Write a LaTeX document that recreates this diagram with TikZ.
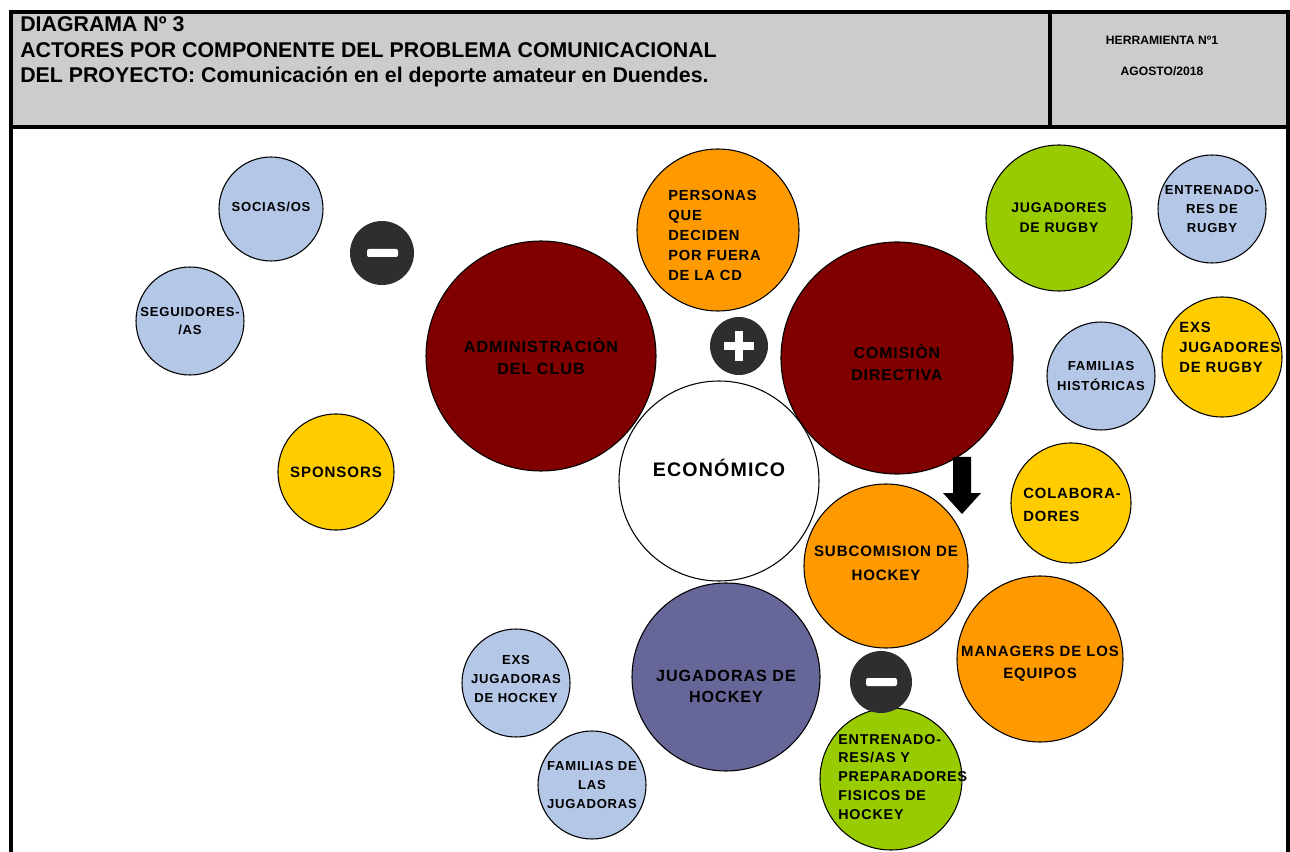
\documentclass[tikz,border=0pt]{standalone}
\usepackage{fontspec}
\setmainfont{Liberation Sans}
\newfontfamily\spc[LetterSpace=6]{Liberation Sans}
\definecolor{lblue}{HTML}{B4C7E7}
\definecolor{orng}{HTML}{FF9900}
\definecolor{dred}{HTML}{800000}
\definecolor{ylw}{HTML}{FFCC00}
\definecolor{grn}{HTML}{99CC00}
\definecolor{purp}{HTML}{666699}
\definecolor{dark}{HTML}{2E2E2E}
\definecolor{hdr}{HTML}{CCCCCC}
\tikzset{
  bub/.style={circle, draw=black, line width=0.8pt, inner sep=0pt},
  sgn/.style={circle, fill=dark, inner sep=0pt},
  big/.style={font=\spc\bfseries\fontsize{#1}{16.5}\selectfont, align=center, inner sep=0pt},
  big/.default=11.3,
  sml/.style={font=\spc\bfseries\fontsize{9.8}{14}\selectfont, align=center, inner sep=0pt},
  frame/.style={line width=2.4pt, black},
  htxt/.style={anchor=base west, inner sep=0pt, font=\bfseries\fontsize{16}{18}\selectfont},
  rtxt/.style={inner sep=0pt, font=\bfseries\fontsize{9.1}{11}\selectfont},
}
\begin{document}
\begin{tikzpicture}[x=0.75pt, y=-0.75pt]
\useasboundingbox (0,0) rectangle (1290,852);
% header
\fill[hdr] (11,12) rectangle (1288,127);
\draw[frame] (11,852) -- (11,12) -- (1288,12) -- (1288,852);
\draw[frame] (11,127) -- (1288,127);
\draw[frame] (1050,12) -- (1050,127);
\node[htxt] (h1) at (20,32) {DIAGRAMA Nº 3};
\node[htxt] (h2) at (20,57.5) {ACTORES POR COMPONENTE DEL PROBLEMA COMUNICACIONAL};
\node[htxt] (h3) at (20,83) {DEL PROYECTO: Comunicación en el deporte amateur en Duendes.};
\node[rtxt] (h4) at (1162,40) {HERRAMIENTA Nº1};
\node[rtxt] (h5) at (1162,71) {AGOSTO/2018};

% circles
\node[bub, fill=lblue, minimum size=78pt] (soc) at (271,209) {};
\node[sml] at ([shift={(0,-2)}]soc) {SOCIAS/OS};
\node[bub, fill=lblue, minimum size=81pt] (seg) at (190,321) {};
\node[sml] at (seg) {SEGUIDORES-\\/AS};
\node[sgn, minimum size=48pt] (m1) at (382,253) {};
\fill[white, rounded corners=1.5pt] (367,249) rectangle (398,257);

\node[bub, fill=dred, minimum size=172.5pt] (adm) at (541,356) {};
\node[big=12.1] at (adm) {ADMINISTRACIÒN\\DEL CLUB};
\node[bub, fill=orng, minimum size=121.5pt] (per) at (718,230) {};
\node[big, align=left, anchor=west, font=\spc\bfseries\fontsize{11}{15}\selectfont] at ([shift={(-50,5)}]per) {PERSONAS\\QUE\\DECIDEN\\POR FUERA\\DE LA CD};
\node[sgn, minimum size=43.5pt] (pl) at (739,346) {};
\fill[white] (724,342) rectangle (754,350);
\fill[white] (735,331) rectangle (743,361);
\node[bub, fill=dred, minimum size=174pt] (com) at (897,358) {};
\node[big=11.8] at ([shift={(0,5)}]com) {COMISIÒN\\DIRECTIVA};
\node[bub, fill=white, minimum size=150pt] (eco) at (719,481) {};
\node[inner sep=0pt, font=\spc\bfseries\fontsize{14.7}{16}\selectfont] at ([shift={(0,-13)}]eco) {ECONÓMICO};
\node[bub, fill=ylw, minimum size=87pt] (spo) at (336,472) {};
\node[big] at (spo) {SPONSORS};

\node[bub, fill=grn, minimum size=109.5pt] (jr) at (1059,218) {};
\node[big, font=\spc\bfseries\fontsize{10.5}{15}\selectfont] at (jr) {JUGADORES\\DE RUGBY};
\node[bub, fill=lblue, minimum size=81pt] (er) at (1212,209) {};
\node[sml] at (er) {ENTRENADO-\\RES DE\\RUGBY};
\node[bub, fill=lblue, minimum size=81pt] (fh) at (1101,376) {};
\node[sml, font=\spc\bfseries\fontsize{9.8}{15.5}\selectfont] at (fh) {FAMILIAS\\HISTÓRICAS};
\node[bub, fill=ylw, minimum size=90pt] (ejr) at (1222,357) {};
\node[big, align=left, anchor=west, font=\spc\bfseries\fontsize{11.1}{15}\selectfont] at ([shift={(-43,-10)}]ejr) {EXS\\JUGADORES\\DE RUGBY};
\node[bub, fill=ylw, minimum size=90pt] (col) at (1071,503) {};
\node[big, align=left, anchor=west, font=\spc\bfseries\fontsize{11.1}{17}\selectfont] at ([shift={(-48,2)}]col) {COLABORA-\\DORES};

\node[bub, fill=orng, minimum size=123pt] (sub) at (886,566) {};
\node[big, font=\spc\bfseries\fontsize{11.3}{18}\selectfont] at ([shift={(0,-3)}]sub) {SUBCOMISION DE\\HOCKEY};
\fill[black] (953,457) -- (971,457) -- (971,493) -- (981,493) -- (962,514) -- (943,493) -- (953,493) -- cycle;
\node[bub, fill=orng, minimum size=124.5pt] (man) at (1040,659) {};
\node[big=11.2] at ([shift={(0,5)}]man) {MANAGERS DE LOS\\EQUIPOS};
\node[bub, fill=purp, minimum size=141pt] (jh) at (726,677) {};
\node[big, font=\spc\bfseries\fontsize{12.1}{15.75}\selectfont] at ([shift={(0,9)}]jh) {JUGADORAS DE\\HOCKEY};
\node[bub, fill=grn, minimum size=106.5pt] (eh) at (891,779) {};
\node[sgn, minimum size=46.5pt] (m2) at (881,682) {};
\fill[white, rounded corners=1.5pt] (866,678) rectangle (897,686);
\node[big, align=left, anchor=west, font=\spc\bfseries\fontsize{10.7}{14.2}\selectfont] at ([shift={(-53,-2)}]eh) {ENTRENADO-\\RES/AS Y\\PREPARADORES\\FISICOS DE\\HOCKEY};
\node[bub, fill=lblue, minimum size=81pt] (ejh) at (516,683) {};
\node[sml] at ([shift={(0,-4)}]ejh) {EXS\\JUGADORAS\\DE HOCKEY};
\node[bub, fill=lblue, minimum size=81pt] (fj) at (592,785) {};
\node[sml] at (fj) {FAMILIAS DE\\LAS\\JUGADORAS};
\end{tikzpicture}
\end{document}
